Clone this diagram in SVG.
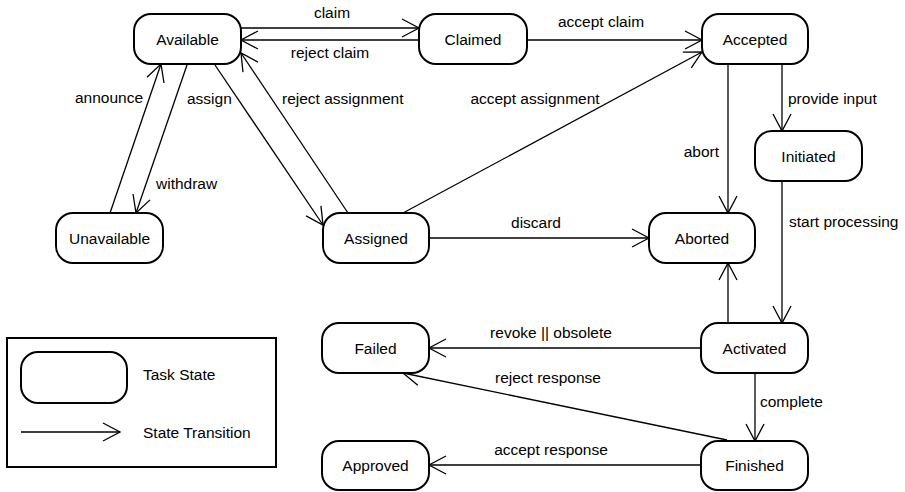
<svg xmlns="http://www.w3.org/2000/svg" width="905" height="492" viewBox="0 0 905 492">
<style>
.n{fill:#fff;stroke:#000;stroke-width:2}
.t{font-family:"Liberation Sans",Arial,sans-serif;font-size:15.5px;fill:#000}
.c{text-anchor:middle}
.e{fill:none;stroke:#000;stroke-width:1.3;marker-end:url(#a)}
</style>
<defs>
<marker id="a" markerUnits="userSpaceOnUse" markerWidth="40" markerHeight="40" refX="0" refY="0" viewBox="-20 -20 40 40" orient="auto" overflow="visible">
<path d="M-17,-9 L0,0 L-17,9" fill="none" stroke="#000" stroke-width="1.3"/>
</marker>
</defs>
<rect width="905" height="492" fill="#fff"/>
<g id="connectors">
<line class="e" x1="241" y1="28" x2="419" y2="28"/>
<text class="t c" x="332" y="18">claim</text>
<line class="e" x1="419" y1="40" x2="241" y2="40"/>
<text class="t c" x="330" y="58">reject claim</text>
<line class="e" x1="527" y1="40" x2="702" y2="40"/>
<text class="t c" x="601" y="27">accept claim</text>
<line class="e" x1="403" y1="213" x2="702" y2="52"/>
<text class="t c" x="535" y="104">accept assignment</text>
<line class="e" x1="728" y1="64" x2="728" y2="213"/>
<text class="t" x="719" y="157" text-anchor="end">abort</text>
<line class="e" x1="782" y1="64" x2="782" y2="131"/>
<text class="t" x="788" y="104">provide input</text>
<line class="e" x1="782" y1="181" x2="782" y2="323"/>
<text class="t" x="789" y="227">start processing</text>
<line class="e" x1="728" y1="323" x2="728" y2="263"/>
<line class="e" x1="429" y1="238" x2="649" y2="238"/>
<text class="t c" x="536" y="228">discard</text>
<line class="e" x1="701" y1="348" x2="429" y2="348"/>
<text class="t c" x="551" y="338">revoke || obsolete</text>
<line class="e" x1="727" y1="440" x2="403" y2="373"/>
<text class="t c" x="548" y="383">reject response</text>
<line class="e" x1="755" y1="373" x2="755" y2="441"/>
<text class="t" x="760" y="407">complete</text>
<line class="e" x1="701" y1="465" x2="429" y2="465"/>
<text class="t c" x="551" y="455">accept response</text>
<line class="e" x1="110" y1="213" x2="161" y2="64"/>
<text class="t" x="143" y="103" text-anchor="end">announce</text>
<line class="e" x1="187" y1="65" x2="136" y2="213"/>
<text class="t" x="156" y="189">withdraw</text>
<line class="e" x1="215" y1="65" x2="323" y2="225"/>
<text class="t" x="187" y="104">assign</text>
<line class="e" x1="348" y1="213" x2="241" y2="53"/>
<text class="t" x="282" y="104">reject assignment</text>
</g>
<g id="Available"><rect class="n" x="134" y="14" width="107" height="50" rx="17"/><text class="t c" x="187.5" y="45">Available</text></g>
<g id="Claimed"><rect class="n" x="419" y="14" width="108" height="50" rx="17"/><text class="t c" x="473" y="45">Claimed</text></g>
<g id="Accepted"><rect class="n" x="702" y="14" width="106" height="50" rx="17"/><text class="t c" x="755" y="45">Accepted</text></g>
<g id="Initiated"><rect class="n" x="755" y="131" width="107" height="50" rx="17"/><text class="t c" x="808.5" y="162">Initiated</text></g>
<g id="Unavailable"><rect class="n" x="56" y="213" width="107" height="50" rx="17"/><text class="t c" x="109.5" y="244">Unavailable</text></g>
<g id="Assigned"><rect class="n" x="323" y="213" width="106" height="50" rx="17"/><text class="t c" x="376" y="244">Assigned</text></g>
<g id="Aborted"><rect class="n" x="649" y="213" width="106" height="50" rx="17"/><text class="t c" x="702" y="244">Aborted</text></g>
<g id="Failed"><rect class="n" x="322" y="323" width="107" height="50" rx="17"/><text class="t c" x="375.5" y="354">Failed</text></g>
<g id="Activated"><rect class="n" x="701" y="323" width="107" height="50" rx="17"/><text class="t c" x="754.5" y="354">Activated</text></g>
<g id="Approved"><rect class="n" x="322" y="441" width="107" height="49" rx="17"/><text class="t c" x="375.5" y="471">Approved</text></g>
<g id="Finished"><rect class="n" x="701" y="441" width="107" height="49" rx="17"/><text class="t c" x="754.5" y="471">Finished</text></g>
<g id="legend">
<rect x="7" y="338" width="269" height="129" fill="none" stroke="#000" stroke-width="2"/>
<rect class="n" x="21" y="352" width="106" height="51" rx="17"/>
<text class="t" x="143" y="380">Task State</text>
<line class="e" x1="21" y1="432" x2="120" y2="432"/>
<text class="t" x="143" y="438">State Transition</text>
</g>
</svg>
